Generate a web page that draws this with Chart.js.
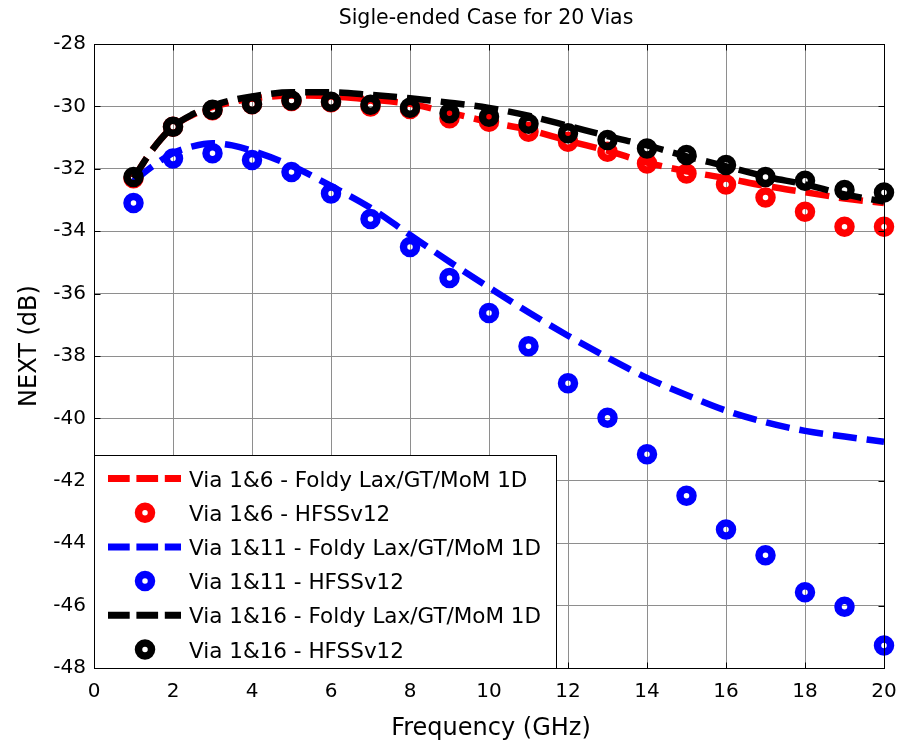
<!DOCTYPE html>
<html>
<head>
<meta charset="utf-8">
<title>Sigle-ended Case for 20 Vias</title>
<script src="https://cdn.jsdelivr.net/npm/chart.js@4.4.1/dist/chart.umd.min.js"></script>
<style>
  html, body { margin: 0; padding: 0; background: #fff; }
  #wrap { width: 901px; height: 744px; }
</style>
</head>
<body>
<div id="wrap"><canvas id="c" width="901" height="744"></canvas></div>
<script>
// Frequency grid of the model curves (GHz)
const modelFreq = [1, 1.5, 2, 2.5, 3, 3.5, 4, 5, 6, 7, 8, 9, 10, 11, 12, 13, 14, 15, 16, 17, 18, 19, 20];
// Foldy Lax/GT/MoM 1D results (dB)
const model_1_6  = [-32.3, -31.35, -30.65, -30.27, -30.02, -29.86, -29.75, -29.65, -29.68, -29.78, -29.92, -30.2, -30.5, -30.75, -31.1, -31.42, -31.8, -32.08, -32.3, -32.55, -32.75, -32.95, -33.1];
const model_1_11 = [-32.4, -31.9, -31.5, -31.28, -31.18, -31.25, -31.42, -31.9, -32.55, -33.25, -34.12, -34.98, -35.8, -36.6, -37.35, -38.05, -38.7, -39.25, -39.75, -40.12, -40.4, -40.58, -40.75];
const model_1_16 = [-32.3, -31.35, -30.65, -30.25, -29.98, -29.8, -29.68, -29.55, -29.55, -29.63, -29.74, -29.88, -30.05, -30.3, -30.62, -30.95, -31.25, -31.6, -31.92, -32.25, -32.5, -32.82, -33.05];

// HFSS v12 sample frequencies (GHz) and results (dB)
const hfssFreq = [1, 2, 3, 4, 5, 6, 7, 8, 9, 10, 11, 12, 13, 14, 15, 16, 17, 18, 19, 20];
const hfss_1_6  = [-32.3, -30.65, -30.12, -29.93, -29.83, -29.87, -30.0, -30.08, -30.38, -30.49, -30.81, -31.13, -31.45, -31.83, -32.15, -32.5, -32.92, -33.38, -33.86, -33.86];
const hfss_1_11 = [-33.1, -31.67, -31.5, -31.72, -32.1, -32.79, -33.61, -34.51, -35.5, -36.62, -37.69, -38.87, -39.98, -41.15, -42.48, -43.56, -44.39, -45.57, -46.04, -47.28];
const hfss_1_16 = [-32.26, -30.65, -30.11, -29.92, -29.81, -29.85, -29.95, -30.04, -30.22, -30.33, -30.56, -30.86, -31.08, -31.35, -31.56, -31.88, -32.26, -32.38, -32.68, -32.76];

const seriesNames = [
  'Via 1&6 - Foldy Lax/GT/MoM 1D',
  'Via 1&6 - HFSSv12',
  'Via 1&11 - Foldy Lax/GT/MoM 1D',
  'Via 1&11 - HFSSv12',
  'Via 1&16 - Foldy Lax/GT/MoM 1D',
  'Via 1&16 - HFSSv12'
];
const seriesColors = ['#ff0000', '#ff0000', '#0000ff', '#0000ff', '#000000', '#000000'];
const seriesKinds  = ['line', 'marker', 'line', 'marker', 'line', 'marker'];

const titleText = 'Sigle-ended Case for 20 Vias';
const xTitle = 'Frequency (GHz)';
const yTitle = 'NEXT (dB)';

const FONT = '"DejaVu Sans", "Liberation Sans", Arial, sans-serif';

function pts(xs, ys) { return xs.map((x, i) => ({ x: x, y: ys[i] })); }

function lineSet(i, data) {
  return {
    label: seriesNames[i], data: data, order: 6 - i,
    borderColor: seriesColors[i], backgroundColor: seriesColors[i],
    borderWidth: 6.5, borderDash: [24, 10], borderCapStyle: 'butt',
    pointRadius: 0, fill: false, showLine: true,
    cubicInterpolationMode: 'monotone'
  };
}
function markerSet(i, data) {
  return {
    label: seriesNames[i], data: data, order: 6 - i,
    borderColor: seriesColors[i], backgroundColor: 'rgba(0,0,0,0)',
    showLine: false, pointStyle: 'circle',
    pointRadius: 6.5, pointBorderWidth: 7.5,
    pointBackgroundColor: 'rgba(0,0,0,0)', pointBorderColor: seriesColors[i],
    clip: false
  };
}

// Axes box, inward ticks, labels and legend
const decorations = {
  id: 'decorations',
  afterDatasetsDraw(chart) {
    const { ctx, chartArea: a, scales } = chart;
    const xs = scales.x, ys = scales.y;
    ctx.save();
    ctx.strokeStyle = '#000';
    ctx.lineWidth = 1;
    const L = Math.round(a.left) + 0.5, R = Math.round(a.right) + 0.5;
    const T = Math.round(a.top) + 0.5, B = Math.round(a.bottom) + 0.5;
    ctx.strokeRect(L, T, R - L, B - T);
    // inward tick marks
    ctx.beginPath();
    xs.ticks.forEach(t => {
      const px = Math.round(xs.getPixelForValue(t.value)) + 0.5;
      ctx.moveTo(px, B); ctx.lineTo(px, B - 6);
      ctx.moveTo(px, T); ctx.lineTo(px, T + 6);
    });
    ys.ticks.forEach(t => {
      const py = Math.round(ys.getPixelForValue(t.value)) + 0.5;
      ctx.moveTo(L, py); ctx.lineTo(L + 6, py);
      ctx.moveTo(R, py); ctx.lineTo(R - 6, py);
    });
    ctx.stroke();

    // legend box
    const lx0 = L, lx1 = 556.5, ly0 = 455.5, ly1 = B;
    ctx.fillStyle = '#fff';
    ctx.fillRect(lx0, ly0, lx1 - lx0, ly1 - ly0);
    ctx.strokeRect(lx0, ly0, lx1 - lx0, ly1 - ly0);
    ctx.font = '21.5px ' + FONT;
    ctx.textAlign = 'left';
    ctx.textBaseline = 'alphabetic';
    for (let i = 0; i < seriesNames.length; i++) {
      const cy = 478.5 + i * 34.2;
      const col = seriesColors[i];
      if (seriesKinds[i] === 'line') {
        ctx.save();
        ctx.strokeStyle = col;
        ctx.lineWidth = 7;
        ctx.lineCap = 'butt';
        ctx.setLineDash([21.7, 6.7]);
        ctx.beginPath();
        ctx.moveTo(108, cy); ctx.lineTo(181, cy);
        ctx.stroke();
        ctx.restore();
      } else {
        ctx.save();
        ctx.strokeStyle = col;
        ctx.lineWidth = 7.5;
        ctx.beginPath();
        ctx.arc(145, cy, 6.5, 0, Math.PI * 2);
        ctx.stroke();
        ctx.restore();
      }
      ctx.fillStyle = '#000';
      ctx.fillText(seriesNames[i], 189, cy + 8);
    }

    // title and axis titles
    ctx.fillStyle = '#000';
    ctx.textAlign = 'center';
    ctx.font = '20.5px ' + FONT;
    ctx.fillText(titleText, 486, 24);
    ctx.font = '24px ' + FONT;
    ctx.fillText(xTitle, 491, 735);
    ctx.save();
    ctx.translate(36, 346);
    ctx.rotate(-Math.PI / 2);
    ctx.fillText(yTitle, 0, 0);
    ctx.restore();
    ctx.restore();
  }
};

new Chart(document.getElementById('c'), {
  type: 'scatter',
  data: {
    datasets: [
      lineSet(0, pts(modelFreq, model_1_6)),
      markerSet(1, pts(hfssFreq, hfss_1_6)),
      lineSet(2, pts(modelFreq, model_1_11)),
      markerSet(3, pts(hfssFreq, hfss_1_11)),
      lineSet(4, pts(modelFreq, model_1_16)),
      markerSet(5, pts(hfssFreq, hfss_1_16))
    ]
  },
  options: {
    responsive: false,
    animation: false,
    devicePixelRatio: 1,
    layout: { padding: { top: 44, right: 17, bottom: 0, left: 0 } },
    scales: {
      x: {
        type: 'linear', min: 0, max: 20,
        ticks: { stepSize: 2, color: '#000', font: { family: FONT, size: 20 }, padding: 12, maxRotation: 0 },
        grid: { color: '#8e8e8e', lineWidth: 1, drawTicks: false },
        border: { display: false },
        afterFit(s) { s.height = 76; s.paddingLeft = 0; s.paddingRight = 0; }
      },
      y: {
        type: 'linear', min: -48, max: -28,
        ticks: { stepSize: 2, color: '#000', font: { family: FONT, size: 20 }, padding: 8 },
        grid: { color: '#8e8e8e', lineWidth: 1, drawTicks: false },
        border: { display: false },
        afterFit(s) { s.width = 94; s.paddingTop = 0; s.paddingBottom = 0; }
      }
    },
    plugins: {
      legend: { display: false },
      tooltip: { enabled: false },
      title: { display: false }
    }
  },
  plugins: [decorations]
});
</script>
</body>
</html>
